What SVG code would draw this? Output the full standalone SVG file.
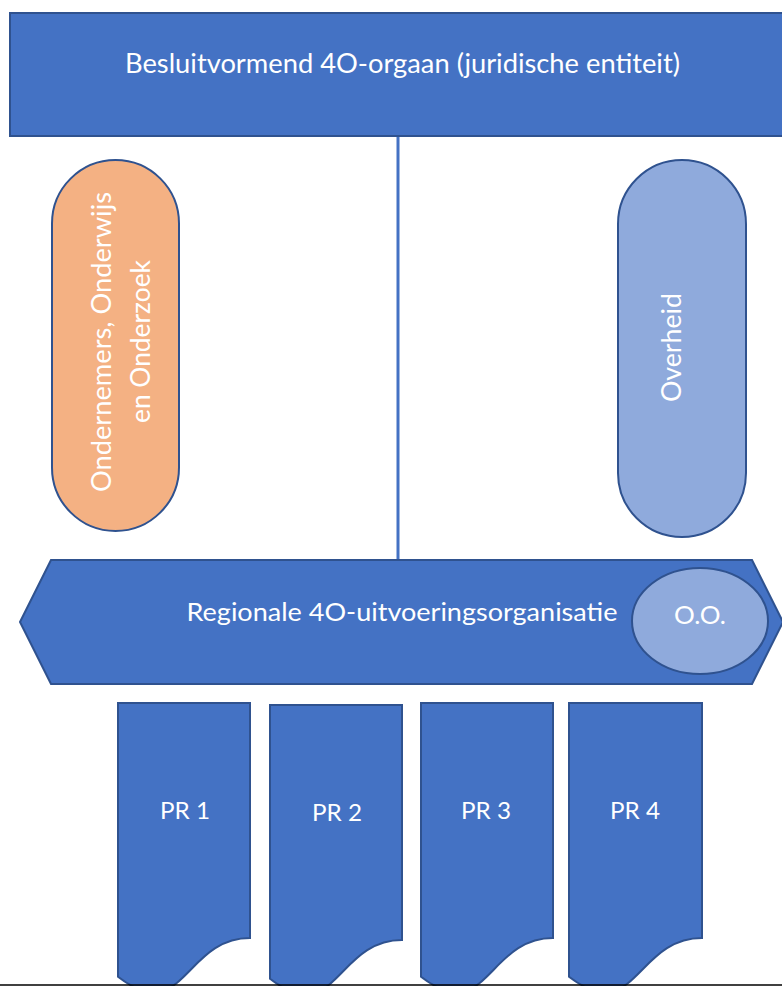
<svg xmlns="http://www.w3.org/2000/svg" width="782" height="986" viewBox="0 0 782 986">
  <style>
    .shape { stroke: #2F528F; stroke-width: 2; }
    .dark { fill: #4472C4; }
    .light { fill: #8FAADC; }
    .orange { fill: #F4B183; }
    .label { font-family: Lato, "Liberation Sans", sans-serif; fill: #FFFFFF; text-anchor: middle; lengthAdjust: spacingAndGlyphs; }
  </style>
  <rect width="782" height="986" fill="#FFFFFF"/>

  <g id="connectors">
    <line x1="398" y1="136" x2="398" y2="560" stroke="#4472C4" stroke-width="3"/>
  </g>

  <g id="besluitvormend">
    <rect class="shape dark" x="10" y="13" width="790" height="123"/>
    <text class="label" x="402.5" y="73" font-size="26" textLength="555" lengthAdjust="spacingAndGlyphs">Besluitvormend 4O-orgaan (juridische entiteit)</text>
  </g>

  <g id="ondernemers">
    <rect class="shape orange" x="52" y="160" width="127" height="371" rx="63.5"/>
    <text class="label" transform="translate(111,342) rotate(-90)" font-size="27" textLength="300" lengthAdjust="spacingAndGlyphs">Ondernemers, Onderwijs</text>
    <text class="label" transform="translate(150,341.5) rotate(-90)" font-size="27" textLength="163" lengthAdjust="spacingAndGlyphs">en Onderzoek</text>
  </g>

  <g id="overheid">
    <rect class="shape light" x="618" y="160" width="128" height="377" rx="64"/>
    <text class="label" transform="translate(681,347.5) rotate(-90)" font-size="27" textLength="109" lengthAdjust="spacingAndGlyphs">Overheid</text>
  </g>

  <g id="regionale">
    <polygon class="shape dark" points="20,622 51,560 752,560 783,622 752,684 51,684"/>
    <text class="label" x="402" y="621" font-size="25" textLength="431" lengthAdjust="spacingAndGlyphs">Regionale 4O-uitvoeringsorganisatie</text>
  </g>

  <g id="oo">
    <ellipse class="shape light" cx="700" cy="621" rx="68" ry="53"/>
    <text class="label" x="700" y="624" font-size="25" textLength="52" lengthAdjust="spacingAndGlyphs">O.O.</text>
  </g>

  <g id="pr1">
    <path class="shape dark" d="M118,703 H250 V938 C184,938 184,1027.6 118,976.7 Z"/>
    <text class="label" x="185" y="819" font-size="24" textLength="50" lengthAdjust="spacingAndGlyphs">PR 1</text>
  </g>
  <g id="pr2">
    <path class="shape dark" d="M270,705 H402 V940 C336,940 336,1029.6 270,978.7 Z"/>
    <text class="label" x="337" y="821" font-size="24" textLength="50" lengthAdjust="spacingAndGlyphs">PR 2</text>
  </g>
  <g id="pr3">
    <path class="shape dark" d="M421,703 H553 V938 C487,938 487,1027.6 421,976.7 Z"/>
    <text class="label" x="486" y="819" font-size="24" textLength="50" lengthAdjust="spacingAndGlyphs">PR 3</text>
  </g>
  <g id="pr4">
    <path class="shape dark" d="M569,703 H702 V938 C635.5,938 635.5,1027.6 569,976.7 Z"/>
    <text class="label" x="635" y="819" font-size="24" textLength="50" lengthAdjust="spacingAndGlyphs">PR 4</text>
  </g>

  <line x1="0" y1="985" x2="782" y2="985" stroke="#000000" stroke-width="1.5"/>
</svg>
